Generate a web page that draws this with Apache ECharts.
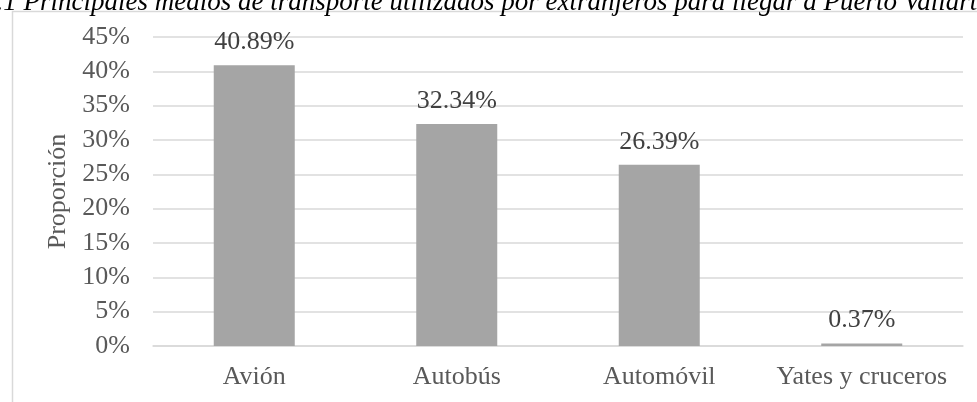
<!DOCTYPE html>
<html><head><meta charset="utf-8">
<script src="https://cdn.jsdelivr.net/npm/echarts@6/dist/echarts.min.js"></script>
<style>html,body{margin:0;padding:0;background:#fff}#c{width:977px;height:402px}</style>
</head><body><div id="c"></div>
<script>
const categories = ['Avión', 'Autobús', 'Automóvil', 'Yates y cruceros'];
const values = [40.89, 32.34, 26.39, 0.37];
const yTicks = [0, 5, 10, 15, 20, 25, 30, 35, 40, 45];
const titleText = '5.1 Principales medios de transporte utilizados por extranjeros para llegar a Puerto Vallarta';

const chart = echarts.init(document.getElementById('c'), null, {renderer: 'canvas'});
const FONT = "'Liberation Serif', 'Times New Roman', serif";
chart.setOption({
  animation: false,
  backgroundColor: '#fff',
  graphic: [
    {type: 'rect', left: 10, top: 9, shape: {width: 1000, height: 500}, style: {fill: 'none', stroke: '#d9d9d9', lineWidth: 1.5}, z: -1},
    {type: 'text', left: -17, top: -11, style: {text: titleText, font: 'italic 27px ' + FONT, fill: '#000'}}
  ],
  grid: {left: 153, right: 14, top: 37, bottom: 56},
  xAxis: {
    type: 'category', data: categories,
    axisLine: {lineStyle: {color: '#d9d9d9', width: 1.5}},
    axisTick: {show: false},
    axisLabel: {color: '#595959', fontSize: 26, fontFamily: FONT, margin: 18, interval: 0}
  },
  yAxis: {
    type: 'value', min: yTicks[0], max: yTicks[yTicks.length - 1], interval: 5,
    name: 'Proporción', nameLocation: 'middle', nameGap: 82,
    nameTextStyle: {color: '#595959', fontSize: 26, fontFamily: FONT},
    axisLine: {show: false}, axisTick: {show: false},
    splitLine: {lineStyle: {color: '#d9d9d9', width: 1.5}},
    axisLabel: {color: '#595959', fontSize: 26, fontFamily: FONT, margin: 23, formatter: '{value}%'}
  },
  series: [{
    type: 'bar', data: values, barWidth: '40%',
    itemStyle: {color: '#a5a5a5'},
    label: {show: true, position: 'top', distance: 10, color: '#404040', fontSize: 26, fontFamily: FONT,
      formatter: p => p.value.toFixed(2) + '%'}
  }]
});
</script></body></html>
